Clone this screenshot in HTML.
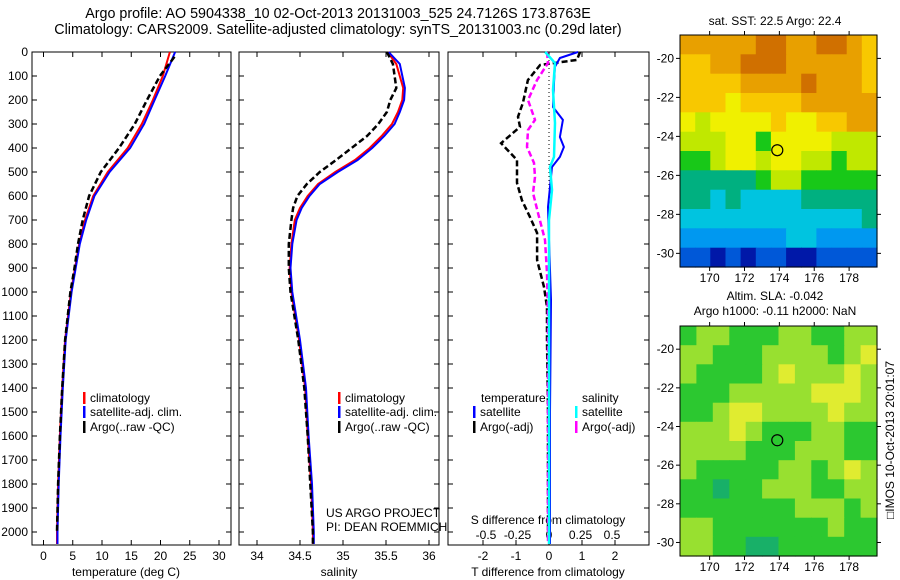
<!DOCTYPE html>
<html><head><meta charset="utf-8"><style>
body{margin:0;background:#fff}
svg{display:block;font-family:"Liberation Sans",sans-serif}
text{font-size:12px;fill:#000}
</style></head><body>
<svg id="c" width="900" height="580" viewBox="0 0 900 580">
<text x="338" y="18" text-anchor="middle" style="font-size:14.3px">Argo profile: AO 5904338_10 02-Oct-2013 20131003_525 24.7126S 173.8763E</text>
<text x="338" y="34" text-anchor="middle" style="font-size:14.3px">Climatology: CARS2009. Satellite-adjusted climatology: synTS_20131003.nc (0.29d later)</text>
</svg>
<script>
// ---- data ----
const tDepth=[0,100,200,300,400,500,600,700,800,900,1000,1200,1400,1600,1800,2000,2050];
const tClim=[21.6,20.4,18.7,16.8,14.4,11.0,8.5,7.1,6.1,5.4,4.7,3.7,3.2,2.8,2.5,2.3,2.3];
const tSat=[22.5,20.8,19.0,17.2,14.8,11.3,8.7,7.3,6.2,5.5,4.8,3.8,3.3,2.9,2.6,2.4,2.4];
const tArgoDepth=[20,100,200,300,400,500,600,700,800,900,1000,1200,1400,1600,1800,2000];
const tArgo=[22.4,19.9,17.7,15.6,12.9,9.8,7.8,6.7,5.9,5.3,4.6,3.7,3.2,2.8,2.5,2.3];
const sDepth=[0,50,150,200,250,300,350,400,450,500,550,600,650,700,800,900,1000,1200,1400,1600,1800,2000,2050];
const sClim=[35.52,35.62,35.70,35.69,35.64,35.57,35.45,35.31,35.14,34.91,34.71,34.59,34.50,34.44,34.40,34.38,34.40,34.49,34.56,34.59,34.63,34.65,34.65];
const sSat=[35.53,35.66,35.72,35.71,35.66,35.60,35.48,35.34,35.17,34.94,34.73,34.61,34.52,34.46,34.41,34.39,34.41,34.50,34.57,34.60,34.64,34.66,34.66];
const sArgo=[35.51,35.58,35.62,35.55,35.51,35.41,35.28,35.10,34.92,34.73,34.58,34.47,34.42,34.40,34.37,34.37,34.39,34.48,34.55,34.59,34.62,34.65,34.65];
const dtArgoDepth=[0,33,54,117,212,270,312,380,450,546,617,687,754,867,979,1062,1200,1500,2000];
const dtArgo=[0.94,0.85,-0.27,-0.64,-0.79,-0.94,-0.88,-1.45,-0.97,-0.97,-0.82,-0.58,-0.36,-0.36,-0.15,-0.06,-0.06,-0.03,-0.03];
const dtSatDepth=[0,25,62,129,229,283,354,396,437,479,646,783,1033,1500,2050];
const dtSat=[0.88,0.33,0.18,0.15,0.12,0.42,0.33,0.45,0.33,0.09,-0.03,0,0.06,0.03,0.03];
const dsSatDepth=[0,46,158,296,437,479,575,700,1000,2050];
const dsSat=[-0.03,0.048,0.032,0.048,0.04,0.008,0.024,0,0,0];
const dsArgoDepth=[0,46,117,200,283,325,396,462,521,587,671,783,921,1100,2050];
const dsArgo=[-0.016,-0.008,-0.095,-0.167,-0.111,-0.167,-0.175,-0.119,-0.111,-0.127,-0.087,-0.032,-0.016,-0.008,-0.008];
const depthTicks=[0,100,200,300,400,500,600,700,800,900,1000,1100,1200,1300,1400,1500,1600,1700,1800,1900,2000];
const tTicks=[0,5,10,15,20,25,30];
const sTicks=[34,34.5,35,35.5,36];
const sTickLabels=["34","34.5","35","35.5","36"];
const dtTicks=[-2,-1,0,1,2];
const dsTicks=[-0.5,-0.25,0,0.25,0.5];
const dsTickLabels=["-0.5","-0.25","0","0.25","0.5"];
const lonTicks=[170,172,174,176,178];
const latTicks=[-20,-22,-24,-26,-28,-30];
const sstRows=["99999AA99AA98","8899AAA999998","88889999A9998","8887888899999","7677778778899","6667757777666","5567767766566","4444456655555","4434333344444","3333333333334","2222222332222","1101011001111"];
const slaRows=["122111221122","221112222123","211112322232","111222223332","112332222322","222321112211","222211122211","211111221232","110112221122","111111122212","221111111211","221100111111"];
// ---- helpers ----
const svg=document.getElementById('c');const NS='http://www.w3.org/2000/svg';
function mk(t,a,p){const e=document.createElementNS(NS,t);for(const k in a)e.setAttribute(k,a[k]);(p||svg).appendChild(e);return e;}
function tx(x,y,s,anchor,p){const e=mk('text',{x:x,y:y,'text-anchor':anchor||'start'},p);e.textContent=s;return e;}
const y0=52,yk=0.24;const yD=d=>y0+d*yk;
const P1={l:32,r:231},P2={l:239,r:439},P3={l:448,r:649},pTop=52,pBot=545;
const xT=v=>43.5+5.85*v, xS=v=>257+86*(v-34), xDT=v=>549+33*v, xDS=v=>549+126*v;
function frame(P,name){
  const g=mk('g',{});
  mk('rect',{x:P.l,y:pTop,width:P.r-P.l,height:pBot-pTop,fill:'none',stroke:'#000','stroke-width':1},g);
  depthTicks.forEach(d=>{mk('line',{x1:P.l,x2:P.l+5,y1:yD(d),y2:yD(d),stroke:'#000'},g);mk('line',{x1:P.r,x2:P.r-5,y1:yD(d),y2:yD(d),stroke:'#000'},g);});
  return g;
}
function drawLine(xs,ds,fx,color,dash,name,w){
  const pts=xs.map((v,i)=>fx(v).toFixed(1)+','+yD(ds[i]).toFixed(1)).join(' ');
  const e=mk('polyline',{points:pts,fill:'none',stroke:color,'stroke-width':w||2});
  if(dash)e.setAttribute('stroke-dasharray',dash);
  
  
}
function xticks(P,ticks,labels,fx,g){ticks.forEach((t,i)=>{const x=fx(t);mk('line',{x1:x,x2:x,y1:pBot,y2:pBot-5,stroke:'#000'},g);mk('line',{x1:x,x2:x,y1:pTop,y2:pTop+5,stroke:'#000'},g);tx(x,560,labels[i],'middle',g);});}
// panel 1
let g=frame(P1,'temperature-panel');
depthTicks.forEach(d=>{tx(28,yD(d)+4,String(d),'end',g);});
xticks(P1,tTicks,tTicks.map(String),xT,g);
tx(126,576,'temperature (deg C)','middle',g);
drawLine(tClim,tDepth,xT,'#f00',null,'temp-climatology-line');
drawLine(tSat,tDepth,xT,'#00f',null,'temp-satellite-line');
drawLine(tArgo,tArgoDepth,xT,'#000','6,3','temp-argo-line',2.5);
// panel 2
g=frame(P2,'salinity-panel');
xticks(P2,sTicks,sTickLabels,xS,g);
tx(339,576,'salinity','middle',g);
drawLine(sClim,sDepth,xS,'#f00',null,'sal-climatology-line');
drawLine(sSat,sDepth,xS,'#00f',null,'sal-satellite-line');
drawLine(sArgo,sDepth,xS,'#000','6,3','sal-argo-line',2.5);
tx(326,517,'US ARGO PROJECT','start',g);tx(326,531,'PI: DEAN ROEMMICH','start',g);
// panel 3
g=frame(P3,'difference-panel');
xticks(P3,dtTicks,dtTicks.map(String),xDT,g);
tx(548,576,'T difference from climatology','middle',g);
dsTicks.forEach((t,i)=>tx(xDS(t),539,dsTickLabels[i],'middle',g));
tx(548,524,'S difference from climatology','middle',g);
mk('line',{x1:549,x2:549,y1:60,y2:200,stroke:'#000','stroke-dasharray':'1,3'},g);
drawLine(dtArgo,dtArgoDepth,xDT,'#000','6,3','dt-argo-line',2.5);
drawLine(dsArgo,dsArgoDepth,xDS,'#f0f','6,3','ds-argo-line',2.5);
drawLine(dtSat,dtSatDepth,xDT,'#00f',null,'dt-satellite-line');
drawLine(dsSat,dsSatDepth,xDS,'#0ff',null,'ds-satellite-line',2.5);
// legends
function leg(x,y,color,label,name){const lg=mk('g',{});mk('rect',{x:x,y:y-10,width:2.5,height:12,fill:color},lg);tx(x+7,y,label,'start',lg);}
leg(83,402,'#f00','climatology','legend-climatology');leg(83,416,'#00f','satellite-adj. clim.','legend-satellite-adj');leg(83,431,'#000','Argo(..raw -QC)','legend-argo');
leg(338,402,'#f00','climatology','legend-sal-climatology');leg(338,416,'#00f','satellite-adj. clim.','legend-sal-satellite-adj');leg(338,431,'#000','Argo(..raw -QC)','legend-sal-argo');
tx(481,402,'temperature');tx(582,402,'salinity');
leg(473,416,'#00f','satellite','legend-t-satellite');leg(473,431,'#000','Argo(-adj)','legend-t-argo');
leg(575,416,'#0ff','satellite','legend-s-satellite');leg(575,431,'#f0f','Argo(-adj)','legend-s-argo');
// maps
const sstCol={'0':'#0018a8','1':'#0058d8','2':'#0098f0','3':'#00c4e0','4':'#00b080','5':'#18c818','6':'#c0e800','7':'#f0f000','8':'#f8c800','9':'#e8a000','A':'#d07000'};
const slaCol={'0':'#18b068','1':'#2cc830','2':'#98e030','3':'#e0ec30'};
function drawMap(T,B,rows,cols,name,title1,title2){
  const L=680,R=877;const mg=mk('g',{});
  const lat=v=>T+(-18.8-v)*(B-T)/11.9, lon=v=>L+(v-168.3)*(R-L)/11.3;
  const nr=rows.length,ch=(B-T)/nr;
  rows.forEach((r,i)=>{const cs=r.split('');const cw=(R-L)/cs.length;cs.forEach((c,j)=>{mk('rect',{x:(L+j*cw).toFixed(1),y:(T+i*ch).toFixed(1),width:(cw+0.6).toFixed(1),height:(ch+0.6).toFixed(1),fill:cols[c]||'#f8c800'},mg);});});
  mk('rect',{x:L,y:T,width:R-L,height:B-T,fill:'none',stroke:'#000'},mg);
  lonTicks.forEach(v=>{const x=lon(v);mk('line',{x1:x,x2:x,y1:T,y2:T-4,stroke:'#000'},mg);mk('line',{x1:x,x2:x,y1:B,y2:B+4,stroke:'#000'},mg);tx(x,B+15,String(v),'middle',mg);});
  latTicks.forEach(v=>{const y=lat(v);mk('line',{x1:L,x2:L-4,y1:y,y2:y,stroke:'#000'},mg);mk('line',{x1:R,x2:R+4,y1:y,y2:y,stroke:'#000'},mg);tx(L-6,y+4,String(v),'end',mg);});
  const ci=mk('circle',{cx:lon(173.88),cy:lat(-24.71),r:5.5,fill:'none',stroke:'#000','stroke-width':1.2},mg);
  
  
  if(title1)tx(775,title2?T-26:T-10,title1,'middle',mg);
  if(title2)tx(775,T-11,title2,'middle',mg);
}
drawMap(35,267,sstRows,sstCol,'sst-map','sat. SST: 22.5  Argo: 22.4');
drawMap(326,556,slaRows,slaCol,'sla-map','Altim. SLA: -0.042','Argo h1000: -0.11 h2000: NaN');
const im=tx(0,0,'\u25A1IMOS 10-Oct-2013 20:01:07','middle');
im.setAttribute('transform','translate(894,440) rotate(-90)');


</script>
</body></html>
